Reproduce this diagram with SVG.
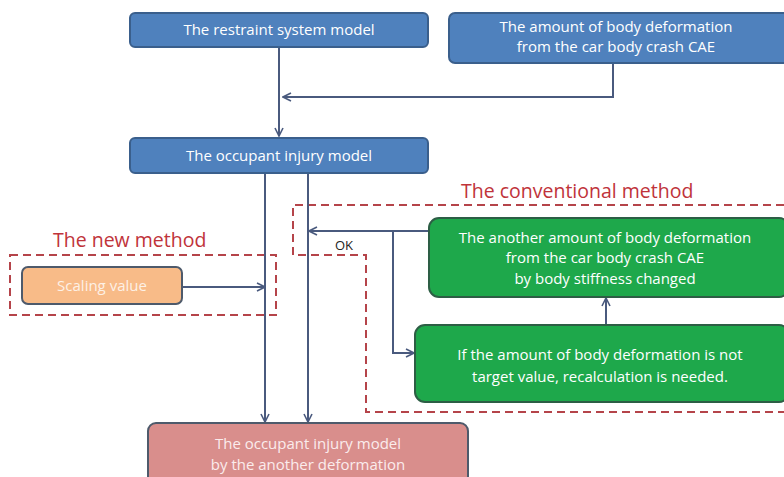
<svg xmlns="http://www.w3.org/2000/svg" width="784" height="477" viewBox="0 0 784 477">
<defs>
<marker id="ah" viewBox="0 0 10 10" refX="9" refY="5" markerWidth="10" markerHeight="10" markerUnits="userSpaceOnUse" orient="auto">
<path d="M1,1 L9,5 L1,9" fill="none" stroke="#4a5a7e" stroke-width="1.6"/>
</marker>
</defs>
<style>
.blue{fill:#4f81bd;stroke:#3a5f8c;stroke-width:2}
.green{fill:#1ea84b;stroke:#2d5e45;stroke-width:2}
.orange{fill:#f8bb88;stroke:#4e5a6b;stroke-width:2}
.pink{fill:#d98e8c;stroke:#4e5a6b;stroke-width:2}
.t{font-family:"Open Sans","Liberation Sans",sans-serif;font-size:15px;fill:#ffffff;text-anchor:middle}
.tl{fill:#fbecec}
.lbl{font-family:"Open Sans","Liberation Sans",sans-serif;font-size:19.5px;fill:#c0333a}
.dash{fill:none;stroke:#b5444a;stroke-width:2;stroke-dasharray:8,5}
.c{fill:none;stroke:#4a5a7e;stroke-width:2}
</style>
<g id="dashed">
<rect class="dash" x="10" y="255" width="266" height="60"/>
<path class="dash" d="M784,205 H293 V255 H366 V412 H784"/>
</g>
<g id="labels">
<text class="lbl" x="53" y="247">The new method</text>
<text class="lbl" x="461" y="198">The conventional method</text>
<text x="335" y="250" style="font-family:'Open Sans','Liberation Sans',sans-serif;font-size:13px;fill:#222">OK</text>
</g>
<g id="connectors">
<path class="c" d="M279,47 V136" marker-end="url(#ah)"/>
<path class="c" d="M613,63 V97 H283" marker-end="url(#ah)"/>
<path class="c" d="M265,173 V422" marker-end="url(#ah)"/>
<path class="c" d="M308,173 V422" marker-end="url(#ah)"/>
<path class="c" d="M182,287 H265" marker-end="url(#ah)"/>
<path class="c" d="M429,231 H309" marker-end="url(#ah)"/>
<path class="c" d="M393,231 V353 H414" marker-end="url(#ah)"/>
<path class="c" d="M606,325 V298" marker-end="url(#ah)"/>
</g>
<g id="n1">
<rect class="blue" x="130" y="13" width="298" height="34" rx="5"/>
<text class="t" x="279" y="35">The restraint system model</text>
</g>
<g id="n2">
<rect class="blue" x="449" y="13" width="340" height="50" rx="6"/>
<text class="t" x="616" y="32">The amount of body deformation</text>
<text class="t" x="616" y="52">from the car body crash CAE</text>
</g>
<g id="n3">
<rect class="blue" x="130" y="138" width="298" height="35" rx="5"/>
<text class="t" x="279" y="161">The occupant injury model</text>
</g>
<g id="n4">
<rect class="orange" x="22" y="267" width="160" height="37" rx="6"/>
<text class="t" x="102" y="291" style="fill:#fdf1e6">Scaling value</text>
</g>
<g id="n5">
<rect class="green" x="429" y="218" width="360" height="79" rx="10"/>
<text class="t" x="605" y="243">The another amount of body deformation</text>
<text class="t" x="605" y="263">from the car body crash CAE</text>
<text class="t" x="605" y="284">by body stiffness changed</text>
</g>
<g id="n6">
<rect class="green" x="415" y="325" width="374" height="77" rx="10"/>
<text class="t" x="600" y="360">If the amount of body deformation is not</text>
<text class="t" x="600" y="382">target value, recalculation is needed.</text>
</g>
<g id="n7">
<rect class="pink" x="148" y="423" width="320" height="70" rx="8"/>
<text class="t tl" x="308" y="449">The occupant injury model</text>
<text class="t tl" x="308" y="470">by the another deformation</text>
</g>
</svg>
